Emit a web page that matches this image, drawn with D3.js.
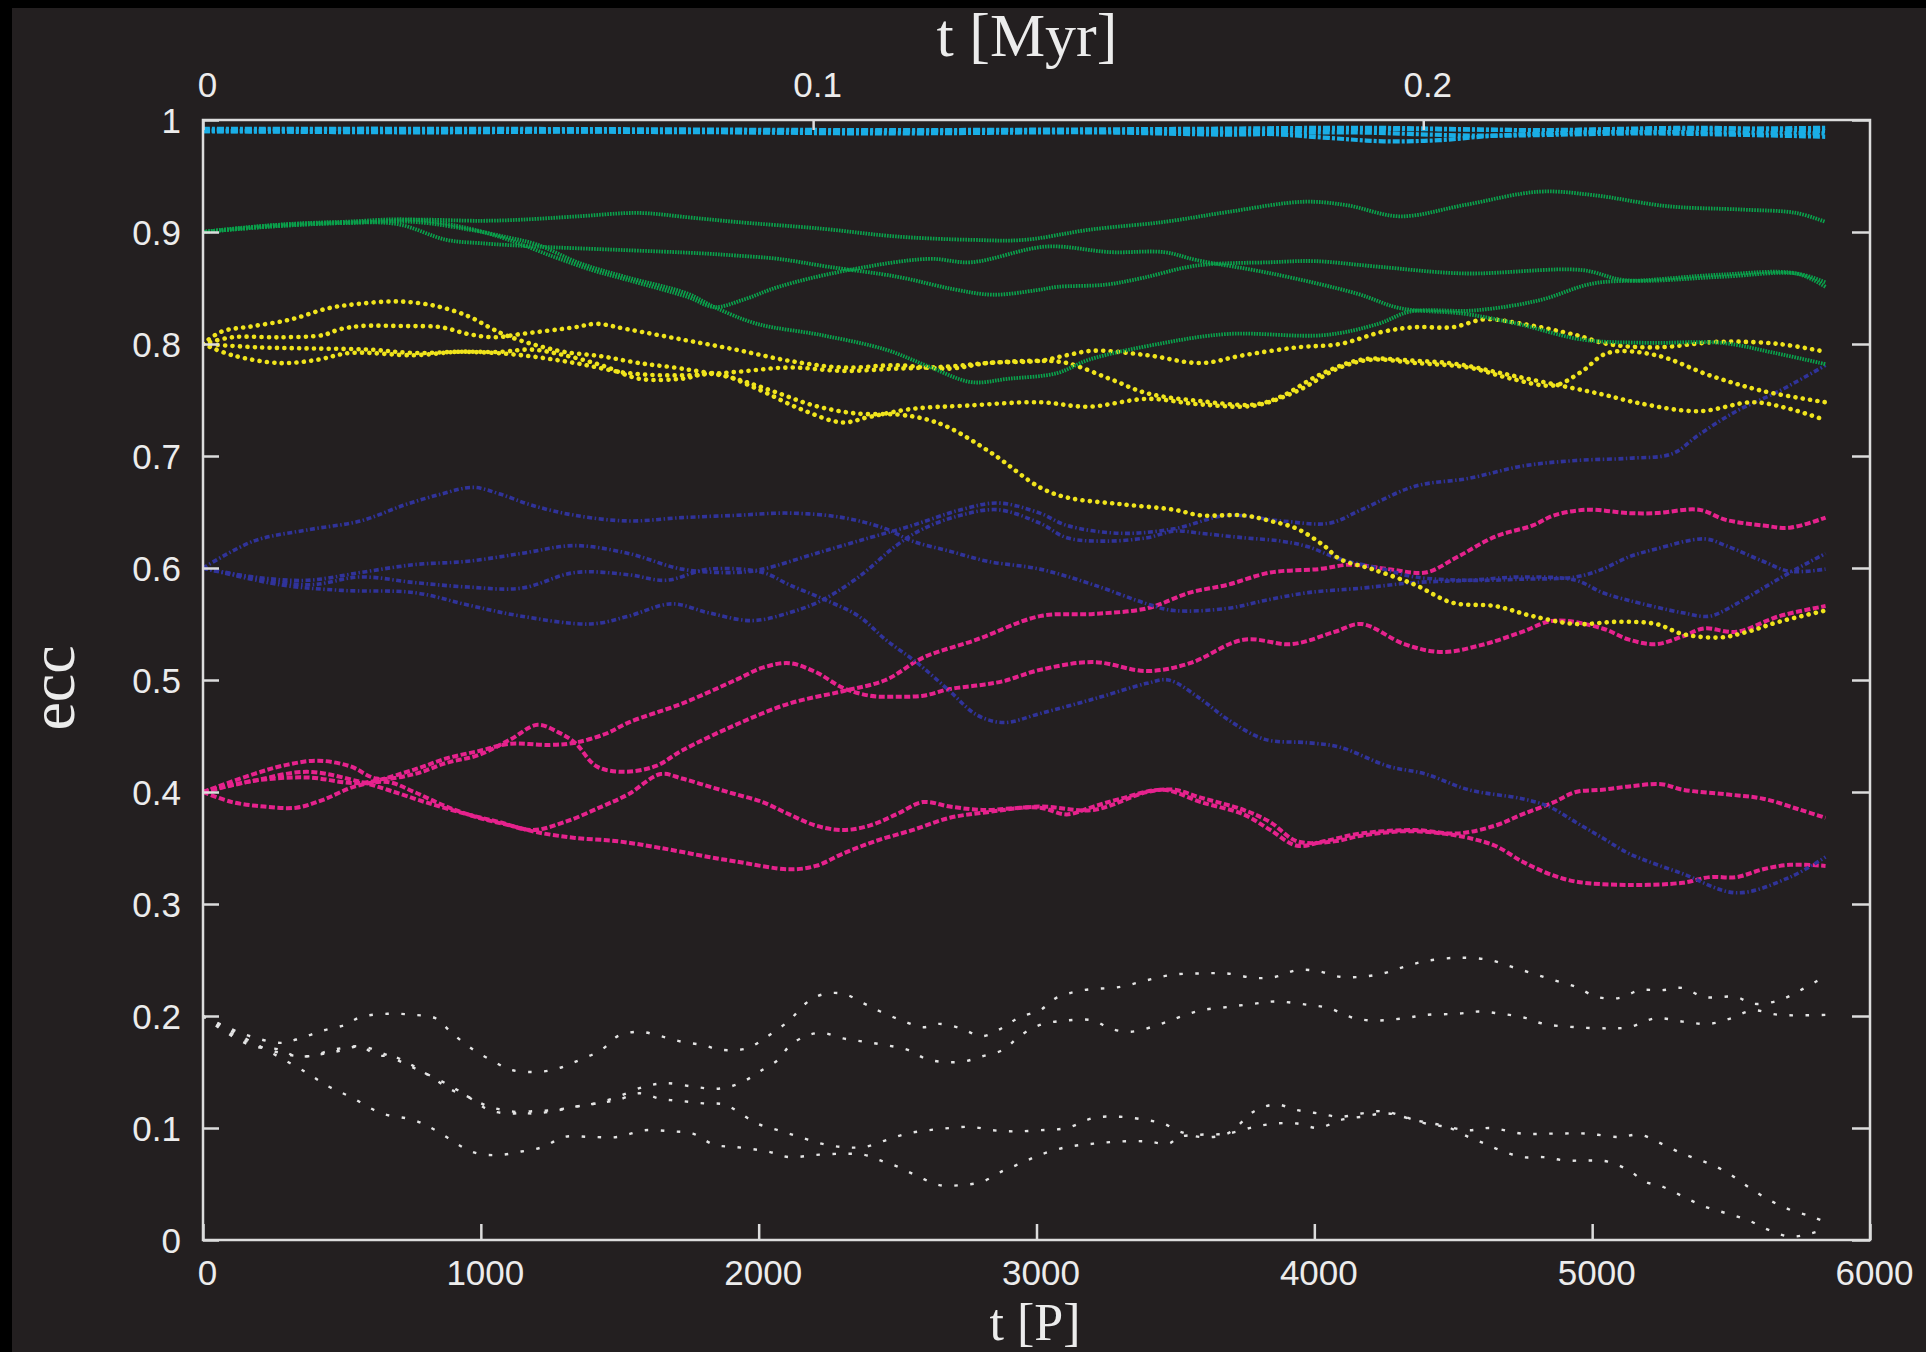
<!DOCTYPE html>
<html>
<head>
<meta charset="utf-8">
<script src="https://cdn.jsdelivr.net/npm/d3@7"></script>
<style>
  html, body { margin: 0; padding: 0; background: #000; }
  svg { display: block; }
</style>
</head>
<body>
<svg id="chart" width="1926" height="1352"></svg>
<script>
// Eccentricity evolution of test orbits, t in orbital periods P.
// Each run is a list of [t, ecc] samples.

const xTickValues = [0, 1000, 2000, 3000, 4000, 5000, 6000];
const yTickValues = [0, 0.1, 0.2, 0.3, 0.4, 0.5, 0.6, 0.7, 0.8, 0.9, 1];
const myrTickValues = [0, 0.1, 0.2];
const MYR_PER_P = 0.1 / 2196;   // conversion of the top axis

// e0 = 0.99
const cyan1 = [[0,0.991],[600,0.992],[1200,0.991],[1800,0.991],[2400,0.990],[3000,0.991],[3600,0.990],[4200,0.992],[4800,0.991],[5400,0.992],[5840,0.993]];
const cyan2 = [[0,0.990],[800,0.989],[1600,0.990],[2400,0.988],[3200,0.989],[3700,0.987],[4100,0.989],[4600,0.986],[5200,0.988],[5840,0.985]];
const cyan3 = [[0,0.990],[1000,0.990],[2000,0.989],[3000,0.990],[3800,0.988],[4050,0.984],[4250,0.981],[4450,0.982],[4650,0.986],[5000,0.989],[5840,0.988]];
const cyan4 = [[0,0.992],[1200,0.992],[2500,0.991],[3500,0.992],[4200,0.993],[4800,0.991],[5400,0.993],[5840,0.990]];

// e0 = 0.9
const green1 = [[0,0.900],[150,0.904],[375,0.908],[600,0.909],[760,0.911],[1000,0.910],[1146,0.911],[1350,0.914],[1570,0.917],[1750,0.913],[1917,0.909],[2225,0.903],[2495,0.896],[2765,0.893],[2958,0.893],[3189,0.902],[3459,0.909],[3691,0.918],[3961,0.927],[4115,0.924],[4308,0.914],[4539,0.924],[4809,0.936],[5002,0.933],[5272,0.923],[5541,0.920],[5734,0.917],[5840,0.909]];
const green2 = [[0,0.900],[250,0.905],[500,0.908],[700,0.907],[876,0.893],[1000,0.890],[1198,0.887],[1500,0.884],[1789,0.881],[1917,0.879],[2071,0.876],[2250,0.869],[2500,0.860],[2700,0.849],[2842,0.844],[3000,0.848],[3074,0.851],[3250,0.853],[3382,0.859],[3575,0.870],[3845,0.873],[4000,0.874],[4230,0.869],[4539,0.863],[4963,0.866],[5118,0.857],[5465,0.860],[5734,0.863],[5840,0.855]];
const green3 = [[0,0.900],[250,0.906],[500,0.909],[760,0.911],[960,0.903],[1100,0.893],[1261,0.878],[1400,0.866],[1531,0.857],[1744,0.842],[1840,0.833],[1950,0.840],[2071,0.851],[2303,0.865],[2611,0.876],[2765,0.873],[3035,0.887],[3267,0.882],[3459,0.882],[3575,0.875],[3845,0.863],[4153,0.845],[4308,0.832],[4539,0.827],[4732,0.818],[4963,0.804],[5195,0.801],[5465,0.801],[5657,0.792],[5840,0.782]];
const green4 = [[0,0.900],[250,0.905],[500,0.908],[760,0.909],[960,0.902],[1100,0.895],[1200,0.889],[1358,0.872],[1519,0.860],[1744,0.845],[1840,0.833],[1994,0.818],[2225,0.808],[2457,0.795],[2611,0.780],[2765,0.766],[2900,0.769],[3074,0.774],[3189,0.786],[3459,0.801],[3691,0.809],[4038,0.808],[4230,0.818],[4346,0.829],[4578,0.830],[4809,0.839],[5002,0.854],[5195,0.857],[5465,0.862],[5734,0.863],[5840,0.851]];

// e0 = 0.8
const yellow1 = [[0,0.800],[66,0.811],[182,0.816],[317,0.822],[452,0.832],[567,0.836],[702,0.838],[837,0.834],[953,0.825],[1030,0.815],[1088,0.808],[1184,0.800],[1300,0.793],[1435,0.789],[1570,0.783],[1724,0.778],[1900,0.770],[2050,0.758],[2200,0.745],[2350,0.738],[2500,0.737],[2600,0.733],[2688,0.725],[2842,0.702],[3012,0.672],[3109,0.663],[3302,0.657],[3495,0.652],[3591,0.647],[3745,0.647],[3842,0.642],[3938,0.635],[4034,0.620],[4092,0.608],[4208,0.599],[4362,0.585],[4497,0.569],[4651,0.566],[4786,0.557],[4941,0.550],[5095,0.552],[5230,0.550],[5326,0.541],[5461,0.538],[5558,0.543],[5673,0.552],[5840,0.562]];
const yellow2 = [[0,0.800],[105,0.806],[278,0.806],[432,0.808],[490,0.813],[567,0.816],[722,0.816],[857,0.815],[953,0.809],[1049,0.806],[1146,0.809],[1339,0.815],[1416,0.818],[1531,0.813],[1724,0.804],[1917,0.795],[2110,0.785],[2303,0.779],[2495,0.781],[2688,0.778],[2823,0.783],[3012,0.785],[3109,0.790],[3205,0.794],[3398,0.790],[3591,0.783],[3745,0.790],[3938,0.797],[4092,0.800],[4247,0.811],[4362,0.815],[4497,0.815],[4613,0.822],[4748,0.818],[4941,0.808],[5056,0.800],[5230,0.797],[5461,0.802],[5673,0.800],[5840,0.793]];
const yellow3 = [[0,0.800],[200,0.797],[400,0.796],[600,0.795],[760,0.792],[953,0.793],[1146,0.790],[1339,0.783],[1531,0.774],[1724,0.772],[1917,0.775],[2110,0.779],[2303,0.776],[2495,0.778],[2688,0.780],[2823,0.783],[3012,0.785],[3109,0.783],[3263,0.769],[3398,0.756],[3591,0.749],[3784,0.746],[3880,0.753],[4015,0.772],[4169,0.786],[4362,0.785],[4516,0.782],[4671,0.774],[4844,0.765],[5037,0.755],[5172,0.747],[5384,0.740],[5577,0.748],[5712,0.742],[5840,0.732]];
const yellow4 = [[0,0.800],[105,0.790],[278,0.783],[413,0.786],[529,0.792],[760,0.790],[915,0.793],[1069,0.793],[1184,0.795],[1300,0.790],[1435,0.781],[1570,0.769],[1724,0.769],[1840,0.774],[1994,0.760],[2150,0.742],[2300,0.730],[2400,0.735],[2550,0.742],[2750,0.745],[3012,0.748],[3186,0.744],[3398,0.751],[3591,0.746],[3784,0.745],[3938,0.758],[4092,0.779],[4208,0.786],[4362,0.783],[4555,0.779],[4709,0.769],[4863,0.763],[4960,0.775],[5056,0.792],[5230,0.790],[5423,0.772],[5615,0.758],[5840,0.748]];

// e0 = 0.6
const blue1 = [[0,0.600],[182,0.624],[375,0.634],[567,0.642],[722,0.656],[857,0.666],[972,0.672],[1069,0.666],[1184,0.656],[1339,0.647],[1531,0.642],[1724,0.645],[1917,0.647],[2110,0.649],[2303,0.645],[2457,0.635],[2553,0.624],[2688,0.615],[2823,0.606],[3012,0.599],[3205,0.585],[3398,0.568],[3495,0.562],[3687,0.564],[3822,0.571],[3977,0.578],[4169,0.582],[4362,0.587],[4555,0.589],[4748,0.592],[4941,0.589],[5037,0.578],[5133,0.571],[5326,0.560],[5423,0.557],[5519,0.568],[5615,0.582],[5712,0.596],[5840,0.613]];
const blue2 = [[0,0.600],[182,0.592],[375,0.589],[567,0.596],[760,0.603],[953,0.606],[1146,0.613],[1339,0.620],[1531,0.613],[1724,0.599],[1917,0.596],[2014,0.599],[2206,0.613],[2399,0.627],[2553,0.638],[2727,0.652],[2862,0.658],[3012,0.649],[3109,0.638],[3302,0.631],[3495,0.635],[3687,0.647],[3880,0.642],[4054,0.640],[4169,0.652],[4362,0.673],[4555,0.680],[4748,0.691],[4941,0.696],[5133,0.698],[5288,0.702],[5384,0.719],[5519,0.740],[5673,0.758],[5840,0.781]];
const blue3 = [[0,0.600],[375,0.585],[567,0.592],[760,0.587],[953,0.583],[1146,0.582],[1339,0.596],[1531,0.594],[1666,0.589],[1820,0.599],[2014,0.596],[2110,0.585],[2245,0.571],[2360,0.557],[2457,0.536],[2572,0.515],[2688,0.490],[2784,0.469],[2881,0.462],[3012,0.470],[3205,0.483],[3398,0.497],[3475,0.500],[3591,0.483],[3687,0.465],[3822,0.447],[3977,0.444],[4092,0.440],[4266,0.423],[4401,0.416],[4555,0.402],[4748,0.394],[4844,0.387],[4941,0.373],[5037,0.359],[5133,0.345],[5326,0.327],[5519,0.310],[5712,0.324],[5840,0.342]];
const blue4 = [[0,0.600],[278,0.585],[500,0.580],[760,0.578],[953,0.567],[1146,0.557],[1396,0.550],[1531,0.557],[1686,0.568],[1820,0.560],[1975,0.553],[2110,0.560],[2226,0.571],[2360,0.592],[2495,0.620],[2592,0.635],[2727,0.647],[2862,0.652],[3012,0.640],[3109,0.627],[3244,0.624],[3398,0.627],[3495,0.633],[3591,0.631],[3745,0.627],[3880,0.624],[3977,0.619],[4092,0.608],[4247,0.599],[4362,0.592],[4555,0.589],[4748,0.590],[4941,0.592],[5037,0.599],[5133,0.610],[5230,0.617],[5403,0.626],[5481,0.620],[5615,0.606],[5712,0.597],[5840,0.599]];

// e0 = 0.4
const magenta1 = [[0,0.400],[182,0.416],[297,0.424],[413,0.428],[529,0.423],[625,0.412],[760,0.416],[876,0.426],[992,0.433],[1107,0.447],[1204,0.460],[1281,0.453],[1339,0.444],[1416,0.423],[1512,0.418],[1628,0.423],[1724,0.437],[1917,0.460],[2110,0.479],[2303,0.490],[2457,0.500],[2592,0.520],[2784,0.536],[3012,0.557],[3205,0.559],[3398,0.564],[3552,0.578],[3687,0.585],[3842,0.596],[4015,0.599],[4131,0.603],[4266,0.599],[4401,0.596],[4516,0.610],[4651,0.628],[4786,0.638],[4863,0.647],[4979,0.652],[5133,0.649],[5230,0.649],[5384,0.652],[5481,0.643],[5615,0.638],[5712,0.636],[5840,0.645]];
const magenta2 = [[0,0.400],[182,0.410],[375,0.413],[567,0.408],[760,0.420],[876,0.430],[1000,0.437],[1100,0.443],[1250,0.442],[1339,0.444],[1450,0.452],[1531,0.462],[1724,0.479],[1917,0.500],[2014,0.511],[2110,0.515],[2206,0.507],[2303,0.493],[2399,0.486],[2495,0.485],[2592,0.486],[2688,0.492],[2784,0.495],[2881,0.499],[3012,0.509],[3205,0.516],[3398,0.508],[3552,0.515],[3745,0.536],[3919,0.532],[4073,0.543],[4169,0.550],[4324,0.532],[4459,0.525],[4613,0.532],[4748,0.543],[4863,0.553],[5037,0.546],[5133,0.536],[5230,0.532],[5326,0.539],[5403,0.546],[5519,0.543],[5673,0.557],[5840,0.566]];
const magenta3 = [[0,0.400],[105,0.391],[220,0.387],[336,0.386],[432,0.393],[548,0.405],[664,0.409],[760,0.400],[876,0.387],[992,0.377],[1107,0.370],[1204,0.364],[1339,0.359],[1493,0.356],[1647,0.350],[1820,0.342],[1917,0.338],[2110,0.331],[2206,0.334],[2303,0.345],[2418,0.356],[2553,0.366],[2688,0.377],[2823,0.382],[3012,0.387],[3205,0.384],[3398,0.400],[3495,0.402],[3591,0.395],[3745,0.384],[3842,0.373],[3938,0.356],[4073,0.356],[4169,0.361],[4324,0.365],[4459,0.363],[4555,0.359],[4651,0.352],[4748,0.338],[4844,0.327],[4941,0.320],[5133,0.317],[5326,0.319],[5423,0.324],[5519,0.324],[5615,0.331],[5712,0.335],[5840,0.334]];
const magenta4 = [[0,0.400],[182,0.410],[375,0.418],[567,0.409],[664,0.402],[799,0.391],[953,0.380],[1069,0.373],[1184,0.366],[1300,0.373],[1435,0.387],[1531,0.398],[1647,0.416],[1724,0.412],[1820,0.405],[1917,0.398],[2014,0.391],[2110,0.380],[2206,0.370],[2303,0.366],[2399,0.370],[2495,0.380],[2592,0.391],[2688,0.387],[2804,0.384],[3012,0.386],[3109,0.380],[3205,0.387],[3302,0.394],[3456,0.402],[3591,0.391],[3745,0.380],[3842,0.366],[3938,0.352],[4034,0.356],[4169,0.363],[4362,0.366],[4516,0.363],[4651,0.370],[4748,0.380],[4863,0.391],[4941,0.400],[5037,0.402],[5133,0.405],[5249,0.407],[5326,0.402],[5481,0.398],[5615,0.394],[5750,0.384],[5840,0.377]];

// e0 = 0.2
const white1 = [[0,0.200],[105,0.188],[182,0.181],[278,0.176],[336,0.179],[432,0.187],[510,0.192],[567,0.199],[664,0.202],[760,0.201],[837,0.198],[895,0.185],[972,0.170],[1049,0.159],[1107,0.152],[1184,0.150],[1261,0.152],[1339,0.159],[1435,0.170],[1493,0.182],[1570,0.186],[1647,0.182],[1724,0.177],[1801,0.174],[1859,0.170],[1956,0.171],[2033,0.182],[2110,0.196],[2168,0.211],[2226,0.219],[2303,0.220],[2380,0.211],[2438,0.204],[2515,0.196],[2592,0.190],[2650,0.193],[2727,0.189],[2804,0.182],[2881,0.190],[2939,0.199],[3012,0.205],[3070,0.216],[3167,0.223],[3302,0.226],[3398,0.232],[3495,0.237],[3591,0.238],[3687,0.238],[3784,0.234],[3861,0.235],[3938,0.241],[4015,0.240],[4092,0.235],[4169,0.235],[4247,0.238],[4324,0.244],[4401,0.249],[4516,0.252],[4632,0.250],[4709,0.244],[4786,0.238],[4863,0.232],[4941,0.226],[5018,0.217],[5095,0.216],[5172,0.223],[5249,0.223],[5326,0.225],[5403,0.217],[5519,0.217],[5577,0.211],[5673,0.214],[5750,0.223],[5808,0.231],[5840,0.235]];
const white2 = [[0,0.200],[143,0.179],[278,0.167],[375,0.164],[471,0.170],[567,0.173],[644,0.167],[722,0.158],[799,0.149],[895,0.137],[972,0.125],[1030,0.116],[1107,0.113],[1184,0.115],[1261,0.116],[1339,0.119],[1416,0.122],[1493,0.128],[1589,0.137],[1666,0.140],[1763,0.137],[1840,0.135],[1898,0.137],[1956,0.143],[2014,0.152],[2071,0.161],[2110,0.173],[2168,0.182],[2226,0.185],[2303,0.180],[2380,0.177],[2457,0.174],[2534,0.170],[2611,0.161],[2727,0.159],[2804,0.164],[2881,0.170],[2939,0.182],[3012,0.192],[3109,0.196],[3205,0.196],[3263,0.189],[3340,0.186],[3437,0.192],[3514,0.199],[3591,0.205],[3687,0.208],[3784,0.211],[3861,0.213],[3977,0.210],[4054,0.207],[4131,0.199],[4208,0.196],[4324,0.198],[4401,0.201],[4516,0.202],[4594,0.204],[4671,0.202],[4748,0.199],[4825,0.193],[4941,0.190],[5056,0.189],[5133,0.190],[5230,0.198],[5326,0.195],[5423,0.193],[5500,0.198],[5577,0.205],[5673,0.201],[5840,0.201]];
const white3 = [[0,0.200],[85,0.185],[182,0.173],[278,0.170],[336,0.164],[452,0.167],[510,0.170],[567,0.173],[625,0.165],[683,0.164],[760,0.155],[837,0.143],[895,0.134],[953,0.128],[1030,0.119],[1107,0.115],[1184,0.113],[1261,0.115],[1339,0.119],[1416,0.122],[1493,0.125],[1570,0.131],[1647,0.126],[1724,0.124],[1801,0.122],[1878,0.121],[1917,0.116],[1994,0.104],[2071,0.098],[2148,0.092],[2226,0.086],[2303,0.083],[2380,0.083],[2457,0.089],[2534,0.095],[2611,0.098],[2688,0.100],[2765,0.101],[2842,0.098],[2919,0.097],[3012,0.098],[3109,0.100],[3205,0.109],[3302,0.110],[3398,0.107],[3456,0.104],[3514,0.097],[3591,0.092],[3687,0.095],[3784,0.115],[3861,0.121],[3938,0.116],[4015,0.113],[4092,0.110],[4169,0.113],[4247,0.115],[4324,0.110],[4401,0.104],[4478,0.101],[4555,0.098],[4632,0.100],[4748,0.095],[4863,0.095],[4979,0.095],[5095,0.092],[5172,0.094],[5249,0.086],[5326,0.077],[5403,0.070],[5481,0.061],[5558,0.048],[5635,0.036],[5712,0.027],[5789,0.021],[5840,0.016]];
const white4 = [[0,0.200],[182,0.176],[375,0.149],[452,0.137],[529,0.128],[644,0.113],[760,0.107],[837,0.098],[934,0.083],[992,0.077],[1069,0.076],[1146,0.079],[1223,0.083],[1300,0.092],[1396,0.092],[1493,0.092],[1589,0.098],[1686,0.097],[1763,0.095],[1840,0.085],[1917,0.083],[2033,0.079],[2110,0.074],[2206,0.076],[2303,0.077],[2380,0.076],[2438,0.071],[2495,0.066],[2572,0.057],[2650,0.049],[2727,0.049],[2804,0.052],[2881,0.062],[2939,0.068],[3012,0.076],[3109,0.083],[3205,0.086],[3302,0.088],[3398,0.088],[3475,0.086],[3514,0.092],[3591,0.094],[3687,0.095],[3784,0.101],[3861,0.104],[3938,0.104],[4015,0.100],[4092,0.107],[4169,0.110],[4266,0.113],[4362,0.107],[4478,0.101],[4555,0.092],[4613,0.086],[4671,0.080],[4748,0.074],[4825,0.074],[4902,0.071],[4979,0.071],[5056,0.070],[5133,0.062],[5191,0.052],[5249,0.048],[5326,0.039],[5403,0.030],[5481,0.024],[5558,0.018],[5635,0.009],[5712,0.003],[5789,0.006],[5840,0.010]];

// Line groups, drawn from low to high initial eccentricity
const groups = [
  { runs: [white1, white2, white3, white4],         color: "#e4e4e4", width: 2.4, dash: "3.5,12.5", cap: "butt" },
  { runs: [magenta1, magenta2, magenta3, magenta4], color: "#e6228d", width: 4,   dash: "6,2.5",    cap: "butt" },
  { runs: [blue1, blue2, blue3, blue4],             color: "#30339a", width: 3.6, dash: "5,2.5,1.5,2.5", cap: "butt" },
  { runs: [yellow1, yellow2, yellow3, yellow4],     color: "#f0e41c", width: 4.6, dash: "0.1,7.3",  cap: "round" },
  { runs: [green1, green2, green3, green4],         color: "#0aa24c", width: 3.8, dash: "1.6,1.1",  cap: "butt" },
  { runs: [cyan1, cyan2, cyan3, cyan4],             color: "#1aaee6", width: 4.2, dash: "7,2,3,2",  cap: "butt" }
];

const W = 1926, H = 1352;
const plot = { left: 203, right: 1870, top: 120, bottom: 1240 };
const frameColor = "#dcdcdc";
const textColor = "#ececec";
const sansFont = "'Liberation Sans', Arial, Helvetica, sans-serif";
const serifFont = "'Liberation Serif', 'Times New Roman', serif";

const svg = d3.select("#chart");

// page background with the dark canvas
svg.append("rect").attr("width", W).attr("height", H).attr("fill", "#000");
svg.append("rect").attr("x", 12).attr("y", 8).attr("width", W - 12).attr("height", H - 8).attr("fill", "#231f20");

const x = d3.scaleLinear().domain([0, 6000]).range([plot.left, plot.right]);
const y = d3.scaleLinear().domain([0, 1]).range([plot.bottom, plot.top]);
const xMyr = d3.scaleLinear().domain([0, 6000 * MYR_PER_P]).range([plot.left, plot.right]);

svg.append("clipPath").attr("id", "plot-clip")
  .append("rect")
  .attr("x", plot.left).attr("y", plot.top)
  .attr("width", plot.right - plot.left).attr("height", plot.bottom - plot.top);

const line = d3.line()
  .x(d => x(d[0]))
  .y(d => y(d[1]))
  .curve(d3.curveCatmullRom.alpha(0.5));

const linesG = svg.append("g").attr("clip-path", "url(#plot-clip)");
groups.forEach(g => {
  linesG.append("g")
    .selectAll("path")
    .data(g.runs)
    .join("path")
    .attr("d", line)
    .attr("fill", "none")
    .attr("stroke", g.color)
    .attr("stroke-width", g.width)
    .attr("stroke-dasharray", g.dash)
    .attr("stroke-linecap", g.cap);
});

// axes (ticks pointing inward)
function styleAxis(sel) {
  sel.select(".domain").remove();
  sel.selectAll(".tick line").attr("stroke", frameColor).attr("stroke-width", 2.5);
  sel.selectAll(".tick text")
    .attr("fill", textColor)
    .style("font-family", sansFont)
    .style("font-size", "35px");
}

const fmt = d => String(d);

svg.append("g")
  .attr("transform", `translate(0,${plot.bottom})`)
  .call(d3.axisBottom(x).tickValues(xTickValues).tickSize(-16).tickFormat(fmt))
  .call(styleAxis)
  .call(s => s.selectAll(".tick text").attr("y", 45).attr("dy", 0).attr("dx", 4));

svg.append("g")
  .attr("transform", `translate(0,${plot.top})`)
  .call(d3.axisTop(xMyr).tickValues(myrTickValues).tickSize(-10).tickFormat(fmt))
  .call(styleAxis)
  .call(s => s.selectAll(".tick text").attr("y", -23).attr("dy", 0).attr("dx", 4));

svg.append("g")
  .attr("transform", `translate(${plot.left},0)`)
  .call(d3.axisLeft(y).tickValues(yTickValues).tickSize(-16).tickFormat(fmt))
  .call(styleAxis)
  .call(s => s.selectAll(".tick text").attr("x", -22).attr("dy", "0.36em"));

svg.append("g")
  .attr("transform", `translate(${plot.right},0)`)
  .call(d3.axisRight(y).tickValues(yTickValues).tickSize(-18).tickFormat(""))
  .call(styleAxis);

// frame
svg.append("rect")
  .attr("x", plot.left).attr("y", plot.top)
  .attr("width", plot.right - plot.left).attr("height", plot.bottom - plot.top)
  .attr("fill", "none").attr("stroke", frameColor).attr("stroke-width", 2.5);

// axis titles
svg.append("text")
  .attr("x", 1027).attr("y", 56)
  .attr("text-anchor", "middle")
  .attr("fill", textColor)
  .style("font-family", serifFont).style("font-size", "62px")
  .text("t [Myr]");

svg.append("text")
  .attr("x", 1035).attr("y", 1340)
  .attr("text-anchor", "middle")
  .attr("fill", textColor)
  .style("font-family", serifFont).style("font-size", "52px")
  .text("t [P]");

svg.append("text")
  .attr("transform", "translate(74,688) rotate(-90)")
  .attr("text-anchor", "middle")
  .attr("fill", textColor)
  .style("font-family", serifFont).style("font-size", "64px")
  .text("ecc");
</script>
</body>
</html>
